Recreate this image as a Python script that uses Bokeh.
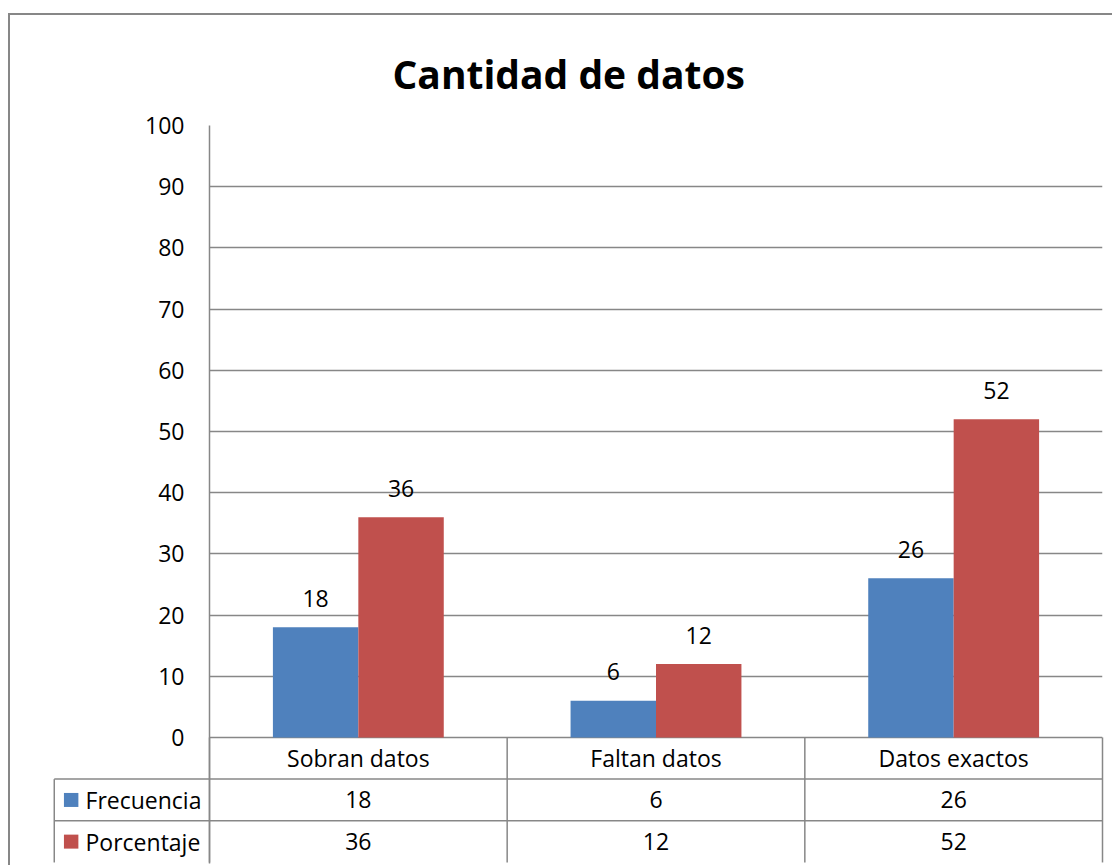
import numpy as np
from bokeh.plotting import figure
from bokeh.models import ColumnDataSource, Range1d, FixedTicker
from bokeh.transform import dodge
from bokeh.layouts import column
from bokeh.embed import file_html
from bokeh.resources import INLINE
from bokeh.core.properties import value

# ---------------- data ----------------
title_text = "Cantidad de datos"
categories = ["Sobran datos", "Faltan datos", "Datos exactos"]
series_names = ["Frecuencia", "Porcentaje"]
frecuencia = [18, 6, 26]
porcentaje = [36, 12, 52]
y_ticks = [0, 10, 20, 30, 40, 50, 60, 70, 80, 90, 100]
series_colors = ["#4F81BD", "#C0504D"]

# ---------------- style / layout constants ----------------
FONT = "Open Sans"
FS = "23px"
GRID = "#878787"
BAR_W = 0.287
ROW = 6.81            # table row height in value units
LEG_L = -0.5215       # left edge of legend column (category units)
Y_MIN = -20.6
KEY_X0, KEY_X1 = -0.489, -0.4405   # legend key square extent (category units)

n = len(categories)
nrows = len(series_names) + 1
xc = [i + 0.5 for i in range(n)]   # category slot centres

src = ColumnDataSource(dict(
    cat=categories, xc=xc,
    frecuencia=frecuencia,
    porcentaje=porcentaje,
    lab_f=[str(v) for v in frecuencia],
    lab_p=[str(v) for v in porcentaje],
))

p = figure(x_range=Range1d(0, n), y_range=Range1d(Y_MIN, 100),
           width=1094, height=850,
           min_border_left=199, min_border_right=2,
           min_border_top=110, min_border_bottom=2,
           output_backend="svg", toolbar_location=None)

p.title.text = title_text
p.title.text_font = FONT
p.title.text_font_size = "39px"
p.title.text_font_style = "bold"
p.title.text_color = "black"
p.title.align = "left"
p.title.offset = 183
p.title.standoff = 52

# bars
p.vbar(x=dodge("xc", -BAR_W / 2), top="frecuencia", width=BAR_W,
       source=src, fill_color=series_colors[0], line_color=None)
p.vbar(x=dodge("xc", BAR_W / 2), top="porcentaje", width=BAR_W,
       source=src, fill_color=series_colors[1], line_color=None)

# value labels
for key, lab, off in (("frecuencia", "lab_f", -BAR_W / 2), ("porcentaje", "lab_p", BAR_W / 2)):
    p.text(x=dodge("xc", off), y=key, text=lab, source=src,
           text_font=value(FONT), text_font_size=FS, text_color="black",
           text_align="center", text_baseline="alphabetic", y_offset=-29)

# axes
p.yaxis.ticker = FixedTicker(ticks=y_ticks)
p.yaxis.major_label_text_font = FONT
p.yaxis.major_label_text_font_size = FS
p.yaxis.major_label_text_color = "black"
p.yaxis.major_tick_line_color = None
p.yaxis.major_tick_out = 0
p.yaxis.major_tick_in = 0
p.yaxis.minor_tick_line_color = None
p.yaxis.major_label_standoff = 25
p.yaxis.axis_line_color = GRID
p.yaxis.axis_line_width = 1.5
p.xaxis.visible = False

p.ygrid.ticker = FixedTicker(ticks=y_ticks)
p.ygrid.grid_line_color = GRID
p.ygrid.grid_line_width = 1.5
p.xgrid.grid_line_color = None
p.outline_line_color = None
p.background_fill_color = "white"
p.border_fill_color = "white"

# ---------------- data table ----------------
row_lines = [-ROW * k for k in range(1, nrows)]          # below header row
p.segment(x0=[LEG_L] * len(row_lines), x1=[n] * len(row_lines),
          y0=row_lines, y1=row_lines,
          line_color=GRID, line_width=1.5, level="overlay")
vx = list(range(n + 1))
p.segment(x0=vx, x1=vx, y0=[0] * len(vx), y1=[-ROW * nrows] * len(vx),
          line_color=GRID, line_width=1.5, level="overlay")
p.segment(x0=[LEG_L], x1=[LEG_L], y0=[-ROW], y1=[-ROW * nrows],
          line_color=GRID, line_width=1.5, level="overlay")

p.text(x=xc, y=[-ROW * 0.5] * n, text=categories,
       text_font=value(FONT), text_font_size=FS, text_color="black",
       text_align="center", text_baseline="middle")
for r, vals in enumerate([frecuencia, porcentaje]):
    yrow = -ROW * (r + 1.5)
    p.text(x=xc, y=[yrow] * n, text=[str(v) for v in vals],
           text_font=value(FONT), text_font_size=FS, text_color="black",
           text_align="center", text_baseline="middle")
    # legend key square (a short thick segment, so it is drawn outside the frame)
    p.segment(x0=[KEY_X0], x1=[KEY_X1], y0=[yrow], y1=[yrow],
              line_color=series_colors[r], line_width=14, line_cap="butt",
              level="overlay")
    p.text(x=[-0.4165], y=[yrow], text=[series_names[r]],
           text_font=value(FONT), text_font_size=FS, text_color="black",
           text_align="left", text_baseline="middle", level="overlay")

layout = column(p, styles={"margin-top": "13px", "margin-left": "8px",
                           "padding-right": "8px",
                           "border-top": "2px solid #878787",
                           "border-left": "2px solid #878787"})

open("out.html", "w").write(file_html(layout, INLINE))
